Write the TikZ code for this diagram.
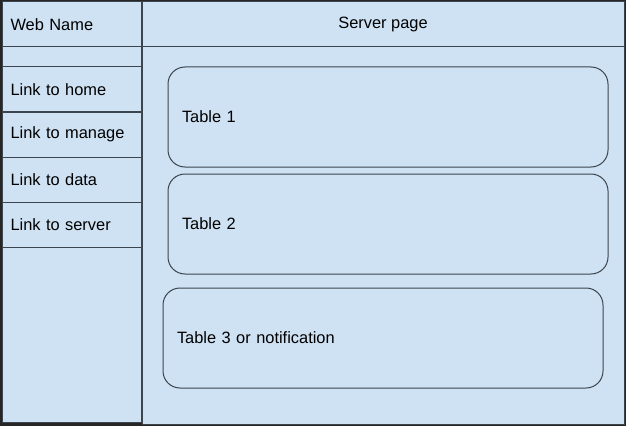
\documentclass[tikz,border=0pt]{standalone}
\usepackage{fontspec}
\setmainfont{Liberation Sans}
\usetikzlibrary{positioning}
\definecolor{pageblue}{RGB}{207,226,243}
\definecolor{edge}{RGB}{60,68,78}

\begin{document}
\begin{tikzpicture}[x=1pt,y=-1pt,
    b/.style={draw=edge,line width=1pt,fill=pageblue,anchor=north west,inner sep=0pt,outer sep=0pt},%
    l/.style={b,minimum width=139,minimum height=45,text width=122,align=left,inner xsep=8.5pt},%
    t/.style={b,rounded corners=17pt,minimum width=440,minimum height=100,text width=412,align=left,inner xsep=14pt},
    font=\fontsize{16.4}{19}\selectfont]
    \useasboundingbox (0,0) rectangle (627,428);
    \draw[fill=pageblue,black!85,line width=1.2pt] (1,1) rectangle (625.5,425.5);
    \node[l] (webname) at (2,2) {Web Name} ;
    \node[b,minimum width=482,minimum height=45] (header) at (142,2) {Server page} ;
    \node[b,minimum width=139,minimum height=375] (menu) at (2,47) {} ;
    \node[b,minimum width=482,minimum height=377] (main) at (142,47) {} ;

    \node[l] (home) at (2,67) {Link to home} ;
    \node[l,below=0pt of home] (manage) {Link to manage} ;
    \node[l,below=0pt of manage] (data) {Link to data} ;
    \node[l,below=0pt of data] (server) {Link to server} ;

    \node[t] (tab1) at (168,67) {Table 1} ;
    \node[t] (tab2) at (168,174) {Table 2} ;
    \node[t] (tab3) at (163,288) {Table 3 or notification} ;
    \end{tikzpicture}
\end{document}
